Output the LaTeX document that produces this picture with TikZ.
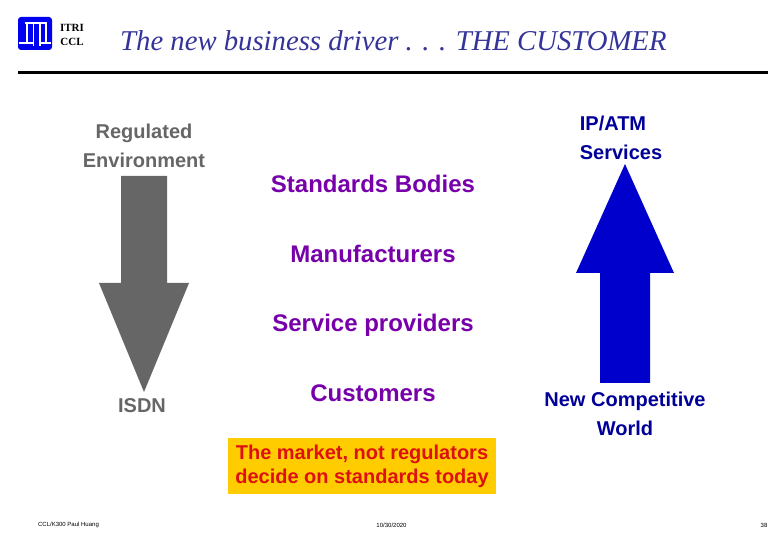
\documentclass[tikz,border=0pt]{standalone}
\usepackage{fontspec}
\setmainfont{Liberation Sans}
\newfontfamily\titlefont{Liberation Serif}
\definecolor{SlideTitle}{RGB}{51,51,153}
\definecolor{SlideGray}{RGB}{102,102,102}
\definecolor{SlideBlue}{RGB}{0,0,204}
\definecolor{SlideNavy}{RGB}{0,0,153}
\definecolor{SlidePurple}{RGB}{119,0,170}
\definecolor{SlideYellow}{RGB}{255,204,0}
\definecolor{SlideRed}{RGB}{221,17,17}
\definecolor{SlideLogo}{RGB}{0,0,240}
\tikzset{
  slide/title/.style={font=\titlefont\itshape\fontsize{28.7}{32}\selectfont, text=SlideTitle, anchor=west, inner sep=0pt},
  slide/logotext/.style={font=\titlefont\bfseries\fontsize{11}{13}\selectfont, text=black, inner sep=0pt},
  slide/side/.style={font=\bfseries\fontsize{20}{29}\selectfont, align=center, inner sep=0pt},
  slide/stack/.style={font=\bfseries\fontsize{24}{28}\selectfont, text=SlidePurple, inner sep=0pt, anchor=base},
  slide/note/.style={font=\bfseries\fontsize{20}{24}\selectfont, text=SlideRed, fill=SlideYellow, align=center,
    minimum width=268, minimum height=56, inner sep=0pt},
  slide/foot/.style={font=\fontsize{6}{7}\selectfont, text=black, inner sep=0pt}
}
\begin{document}
\begin{tikzpicture}[x=1pt,y=-1pt]
  \useasboundingbox (0,0) rectangle (780,540);
  % logo
  \fill[SlideLogo, rounded corners=3] (18,17) rectangle (52,50);
  \fill[white] (25,22) rectangle (47,24);
  \fill[white] (26,22) rectangle (28,42);
  \fill[white] (32.5,22) rectangle (34,46);
  \fill[white] (39,22) rectangle (40.5,46);
  \fill[white] (45,22) rectangle (47,42);
  \fill[white] (19,42) rectangle (34,44);
  \fill[white] (39,42) rectangle (51,44);
  \node[slide/logotext] (itri) at (72,28) {ITRI};
  \node[slide/logotext] (ccl) at (72,42) {CCL};
  \node[slide/title] (title) at (120,40.5) {The new business driver . . . THE CUSTOMER};
  \fill[black] (18,71) rectangle (768,74);
  % arrows
  \fill[SlideGray] (121,176) -- (167,176) -- (167,283) -- (189,283) -- (144,392) -- (99,283) -- (121,283) -- cycle;
  \fill[SlideBlue] (600,383) -- (650,383) -- (650,273) -- (674,273) -- (625,164) -- (576,273) -- (600,273) -- cycle;
  % labels
  \node[slide/side, text=SlideGray] (regulated) at (144,146) {Regulated\\Environment};
  \node[slide/side, text=SlideGray] (isdn) at (142,406) {ISDN};
  \node[slide/side, text=SlideNavy, align=left] (ipatm) at (621,137.5) {IP/ATM\\Services};
  \node[slide/side, text=SlideNavy] (world) at (625,414) {New Competitive\\World};
  \node[slide/stack] (standards) at (373,193) {Standards Bodies};
  \node[slide/stack] (makers) at (373,263) {Manufacturers};
  \node[slide/stack] (providers) at (373,332) {Service providers};
  \node[slide/stack] (customers) at (373,401) {Customers};
  \node[slide/note] (market) at (362,466) {The market, not regulators\\decide on standards today};
  % footer
  \node[slide/foot] (author) at (68.5,525) {CCL/K300 Paul Huang};
  \node[slide/foot] (date) at (391.5,525) {10/30/2020};
  \node[slide/foot] (page) at (764,525) {38};
\end{tikzpicture}
\end{document}
